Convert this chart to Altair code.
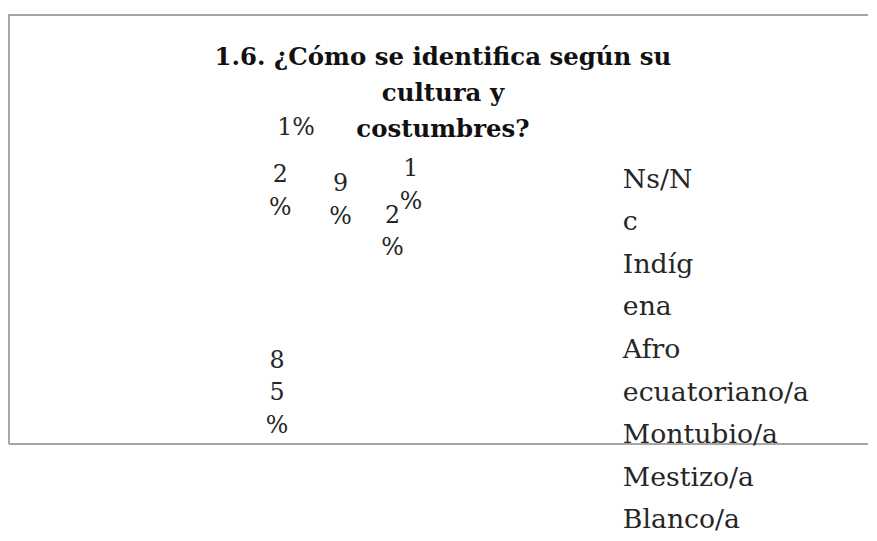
import altair as alt
import pandas as pd

# ---- data ----
categories = ["Ns/Nc", "Indígena", "Afroecuatoriano/a", "Montubio/a", "Mestizo/a", "Blanco/a"]
values = [1, 9, 1, 2, 85, 2]
label_text = ["1%", "9\n%", "1\n%", "2\n%", "8\n5\n%", "2\n%"]
legend_text = ["Ns/N\nc", "Indíg\nena", "Afro\necuatoriano/a", "Montubio/a", "Mestizo/a", "Blanco/a"]
title_lines = ["1.6. ¿Cómo se identifica según su", "cultura y", "costumbres?"]

total = sum(values)
W, H = 869, 435
CX, CY = 284, 315
SERIF = "DejaVu Serif"

pie_df = pd.DataFrame({
    "idx": list(range(len(categories))),
    "category": categories,
    "value": values,
    "label": label_text,
})

legend_lines = []
for t in legend_text:
    legend_lines.extend(t.split("\n"))
legend_df = pd.DataFrame({"k": list(range(len(legend_lines))), "line": legend_lines})

theta_scale = alt.Scale(domain=[0, total])

base = alt.Chart(pie_df)

slices = base.mark_arc(outerRadius=110, fill="white", stroke="white").encode(
    x=alt.value(CX),
    y=alt.value(CY),
    theta=alt.Theta("value:Q", stack=True, scale=theta_scale),
    order=alt.Order("idx:Q"),
)

labels = base.transform_window(
    cum="sum(value)", sort=[alt.SortField("idx")]
).transform_calculate(
    mid="datum.cum - datum.value / 2",
    r="datum.value >= 50 ? 38 : (datum.idx % 2 == 0 ? 200 : 152)",
).mark_text(
    font=SERIF, fontSize=24, lineBreak="\n", lineHeight=33, color="#262626",
    align="center", baseline="middle",
).encode(
    x=alt.value(CX),
    y=alt.value(CY),
    theta=alt.Theta("mid:Q", stack=None, scale=theta_scale),
    radius=alt.Radius("r:Q", scale=None),
    text="label:N",
)

title = alt.Chart(pd.DataFrame({"t": ["\n".join(title_lines)]})).mark_text(
    font=SERIF, fontSize=24.7, fontWeight="bold", lineBreak="\n", lineHeight=36,
    align="center", baseline="top", color="#111111",
).encode(x=alt.value(439), y=alt.value(32), text="t:N")

legend = alt.Chart(legend_df).mark_text(
    font=SERIF, fontSize=27, align="left", baseline="middle", color="#262626",
).encode(
    x=alt.value(621),
    y=alt.Y("k:Q", scale=alt.Scale(domain=[0, len(legend_lines) - 1], range=[168, 512]), axis=None),
    text="line:N",
)

one = pd.DataFrame({"a": [0]})
frame_col = "#a6a6a6"
top_rule = alt.Chart(one).mark_rule(color=frame_col, strokeWidth=2).encode(
    x=alt.value(0), x2=alt.value(W), y=alt.value(1))
left_rule = alt.Chart(one).mark_rule(color=frame_col, strokeWidth=2).encode(
    x=alt.value(0), y=alt.value(0), y2=alt.value(H))
bottom_rule = alt.Chart(one).mark_rule(color=frame_col, strokeWidth=2).encode(
    x=alt.value(0), x2=alt.value(W), y=alt.value(H))

chart = alt.layer(
    slices, top_rule, left_rule, bottom_rule, title, labels, legend
).properties(
    width=W, height=H, padding={"left": 0, "top": 2, "right": 0, "bottom": 0}
).configure_view(strokeWidth=0)

chart.save("out.html", embed_options={"renderer": "svg", "actions": False})
